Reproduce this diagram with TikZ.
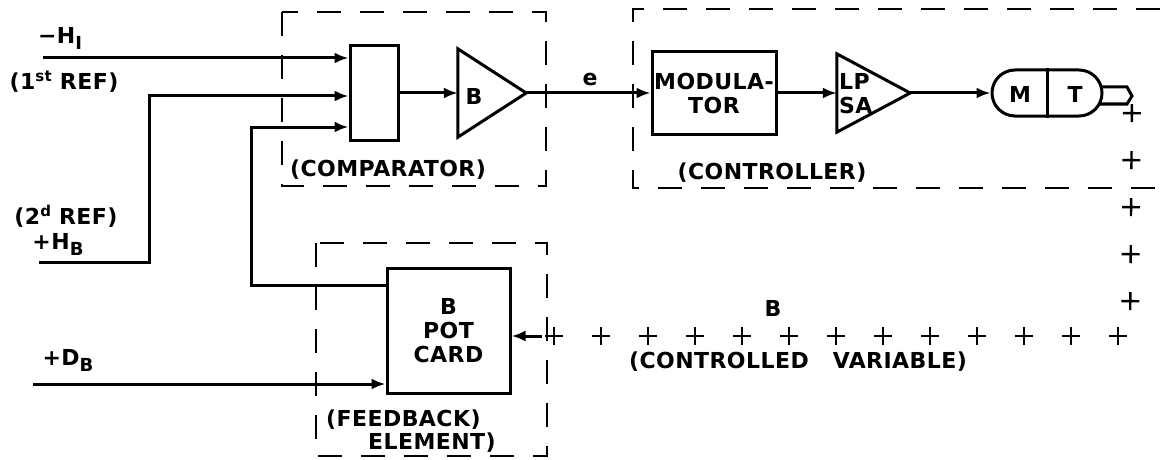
\documentclass[tikz,border=0pt]{standalone}
\usepackage{fontspec}
\newfontfamily\lettering{DejaVu Sans}[LetterSpace=2]
\newcommand\lowsub[1]{\raisebox{-6pt}{\fontsize{18}{18}\selectfont#1}}
\newcommand\highsup[1]{\raisebox{8pt}{\fontsize{15}{15}\selectfont#1}}
\usetikzlibrary{arrows.meta,positioning,calc,shapes.misc,decorations.markings}

\begin{document}
\begin{tikzpicture}[x=1pt,y=-1pt,>={Latex[length=14pt,width=11pt]},
    every node/.style={font=\lettering\bfseries\fontsize{22}{24}\selectfont,inner sep=0pt},
    blk/.style={draw,line width=3pt,align=center},
    amp/.style={inner sep=0pt,minimum width=68pt,minimum height=88pt},
    wire/.style={line width=3pt},
    frame/.style={line width=2.4pt,dash pattern=on 24pt off 19pt},
    cv/.style={decoration={markings,mark=between positions 0.02 and 0.985 step 47pt with
      {\draw[line width=2.4pt] (-9pt,0)--(9pt,0) (0,-9pt)--(0,9pt);}},postaction=decorate}]
    \useasboundingbox (0,0) rectangle (1160,460);

    \draw[frame] (282,12) rectangle (546,186);
    \draw[frame] (1160,9) -| (633,188) -- (1160,188);
    \draw[frame] (316,243) rectangle (547,456);

    \node[blk,minimum width=48pt,minimum height=94pt] (sum) at (374,93) {};
    \node[amp] (bamp) at (492,93) {};
    \draw[wire] (bamp.north west) -- (bamp.east) -- (bamp.south west) -- cycle;
    \node (bgain) at (474,96) {B};
    \node[blk,minimum width=124pt,minimum height=82pt] (mod) at (714,93) {MODULA-\\TOR};
    \node[amp,minimum width=73pt,minimum height=78pt] (lpsa) at (873.5,93) {};
    \draw[wire] (lpsa.north west) -- (lpsa.east) -- (lpsa.south west) -- cycle;
    \node[align=left,anchor=west] (lpsatext) at (839,94) {LP\\SA};
    \node[blk,rounded rectangle,minimum width=110pt,minimum height=46pt] (mt) at (1047,93) {};
    \draw[wire] (mt.north) -- (mt.south);
    \node (m) at (1020,94) {M};
    \node (t) at (1075,94) {T};
    \coordinate (shaft) at (1132,96);
    \draw[wire] (1100,87) -- (1127,87) -- (shaft) -- (1127,104) -- (1100,104);
    \node[blk,minimum width=123pt,minimum height=125pt] (pot) at (448.5,330.5) {B\\POT\\CARD};

    \node (hi) at (60,38) {−H\lowsub{I}};
    \node (ref1) at (64,82) {(1\highsup{st} REF)};
    \node (ref2) at (66,216) {(2\highsup{d} REF)};
    \node (hb) at (58,244) {+H\lowsub{B}};
    \node (db) at (68,360) {+D\lowsub{B}};
    \node (cmp) at (388,170) {(COMPARATOR)};
    \node (ctl) at (772,173) {(CONTROLLER)};
    \node[anchor=west] (fb) at (326,420) {(FEEDBACK)};
    \node[anchor=west] (el) at (368,443) {ELEMENT)};
    \node (e) at (590,79) {e};
    \node (bvar) at (773,308) {B};
    \node (cvar) at (798,362) {(CONTROLLED\hspace{24pt}VARIABLE)};

    \coordinate (in1) at (43,58);
    \coordinate (in2) at (39,262);
    \coordinate (in4) at (33,384);
    \coordinate (corner) at (1130,336);
    \coordinate (potin) at ($(pot.east)+(0,5.5)$);
    \draw[wire,->] (in1) -- ($(sum.west)+(0,-35)$);
    \draw[wire,->] (in2) -- ++(110,0) |- ($(sum.west)+(0,3)$);
    \draw[wire,->] ($(pot.west)+(0,-45)$) -- ++(-134,0) |- ($(sum.west)+(0,34)$);
    \draw[wire,->] (in4) -- ($(pot.west)+(0,53.5)$);
    \draw[wire,->] (sum.east) -- (bamp.west);
    \draw[wire,->] (bamp.east) -- (mod.west);
    \draw[wire,->] (mod.east) -- (lpsa.west);
    \draw[wire,->] (lpsa.east) -- (mt.west);
    \path[cv] (shaft) -- (corner) -- (potin);
    \draw[wire,<-] (potin) -- ++(30,0);
\end{tikzpicture}
\end{document}
